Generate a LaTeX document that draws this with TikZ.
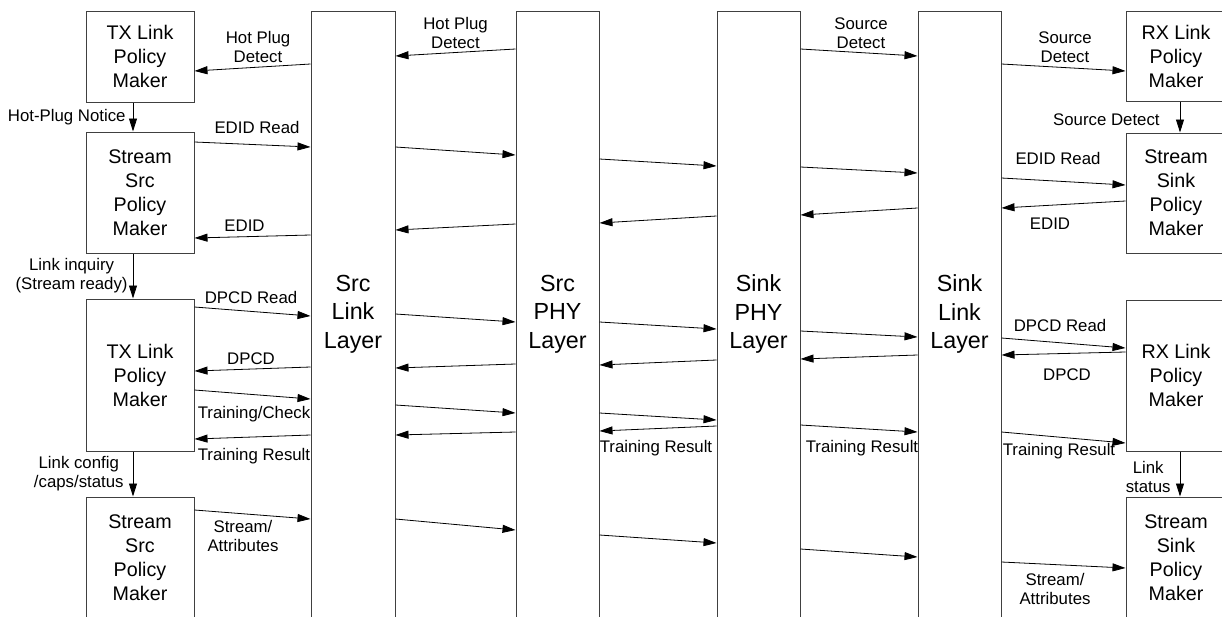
\documentclass[tikz,border=0pt]{standalone}
\usepackage{fontspec}
\setmainfont{Liberation Sans}
\usetikzlibrary{arrows.meta,positioning}

\begin{document}
\begin{tikzpicture}[
  x=1pt, y=-1pt,
  font=\fontsize{19.7}{24}\selectfont,
  policy/.style={draw=black!75, line width=1pt, align=center, minimum width=108pt, inner sep=0pt},
  rxside/.style={policy, minimum width=100pt},
  layer/.style={draw=black!75, line width=1pt, align=center, minimum width=84pt,
                minimum height=606pt, inner sep=0pt, font=\fontsize{23.3}{28.5}\selectfont},
  flow/.style={-{Triangle[length=13pt,width=8pt]}, line width=0.8pt},
  lbl/.style={font=\fontsize{16.8}{19}\selectfont, inner sep=1pt, align=center},
]
\useasboundingbox (0,0) rectangle (1222,616);

% policy makers, source side
\node[policy, minimum height=91pt]  (txpmA) at (140,56.5)  {TX Link\\Policy\\Maker};
\node[policy, minimum height=121pt] (ssrcA) at (140,192.5) {Stream\\Src\\Policy\\Maker};
\node[policy, minimum height=152pt] (txpmB) at (140,375)   {TX Link\\Policy\\Maker};
\node[policy, minimum height=121pt] (ssrcB) at (140,557.5) {Stream\\Src\\Policy\\Maker};

% layers
\node[layer] (srclink) at (353,314) {Src\\Link\\Layer};
\node[layer, minimum width=83pt] (srcphy)   at (557.5,314) {Src\\PHY\\Layer};
\node[layer, minimum width=83pt] (sinkphy)  at (758.5,314) {Sink\\PHY\\Layer};
\node[layer, minimum width=83pt] (sinklink) at (959.5,314) {Sink\\Link\\Layer};

% policy makers, sink side
\node[rxside, minimum height=90pt]  (rxpmA)  at (1176,56)    {RX Link\\Policy\\Maker};
\node[rxside, minimum height=120pt] (ssinkA) at (1176,193)   {Stream\\Sink\\Policy\\Maker};
\node[rxside, minimum height=151pt] (rxpmB)  at (1176,375.5) {RX Link\\Policy\\Maker};
\node[rxside, minimum height=121pt] (ssinkB) at (1176,557.5) {Stream\\Sink\\Policy\\Maker};

% source policy makers <-> Src Link Layer
\draw[flow] (srclink.west |- 0,64) -- node[lbl, above=3.5pt, xshift=5.5pt] {Hot Plug\\Detect} (txpmA.east |- 0,71);
\draw[flow] (ssrcA.east |- 0,142) -- node[lbl, above=9.5pt, xshift=4.5pt] {EDID Read} (srclink.west |- 0,147);
\draw[flow] (srclink.west |- 0,235) -- node[lbl, above=3.5pt, xshift=-8pt] {EDID} (ssrcA.east |- 0,238);
\draw[flow] (txpmB.east |- 0,307) -- node[lbl, above=6.5pt, xshift=-1.5pt] {DPCD Read} (srclink.west |- 0,316);
\draw[flow] (srclink.west |- 0,367) -- node[lbl, above=3pt, xshift=-1.5pt] {DPCD} (txpmB.east |- 0,371);
\draw[flow] (txpmB.east |- 0,390) -- node[lbl, below=10.5pt, xshift=1.5pt] {Training/Check} (srclink.west |- 0,399);
\draw[flow] (srclink.west |- 0,435) -- node[lbl, below=10pt, xshift=1.5pt] {Training Result} (txpmB.east |- 0,439);
\draw[flow] (ssrcB.east |- 0,510) -- node[lbl, below=4.5pt, xshift=-9.5pt] {Stream/\\Attributes} (srclink.west |- 0,519);

% Src Link Layer <-> Src PHY Layer
\draw[flow] (srcphy.west |- 0,49) -- node[lbl, above=2.5pt] {Hot Plug\\Detect} (srclink.east |- 0,56);
\draw[flow] (srclink.east |- 0,147) -- (srcphy.west |- 0,155);
\draw[flow] (srcphy.west |- 0,224) -- (srclink.east |- 0,230);
\draw[flow] (srclink.east |- 0,314) -- (srcphy.west |- 0,322);
\draw[flow] (srcphy.west |- 0,364) -- (srclink.east |- 0,368);
\draw[flow] (srclink.east |- 0,405) -- (srcphy.west |- 0,413);
\draw[flow] (srcphy.west |- 0,432) -- (srclink.east |- 0,435);
\draw[flow] (srclink.east |- 0,519) -- (srcphy.west |- 0,530);

% Src PHY Layer <-> Sink PHY Layer
\draw[flow] (srcphy.east |- 0,159) -- (sinkphy.west |- 0,166);
\draw[flow] (sinkphy.west |- 0,216) -- (srcphy.east |- 0,223);
\draw[flow] (srcphy.east |- 0,322) -- (sinkphy.west |- 0,329);
\draw[flow] (sinkphy.west |- 0,360) -- (srcphy.east |- 0,365);
\draw[flow] (srcphy.east |- 0,413) -- (sinkphy.west |- 0,420);
\draw[flow] (sinkphy.west |- 0,426) -- node[lbl, below=10.5pt, xshift=-2pt] {Training Result} (srcphy.east |- 0,431);
\draw[flow] (srcphy.east |- 0,535) -- (sinkphy.west |- 0,543);

% Sink PHY Layer <-> Sink Link Layer
\draw[flow] (sinkphy.east |- 0,49) -- node[lbl, above=2.5pt, xshift=2pt] {Source\\Detect} (sinklink.west |- 0,56);
\draw[flow] (sinkphy.east |- 0,167) -- (sinklink.west |- 0,173);
\draw[flow] (sinklink.west |- 0,208) -- (sinkphy.east |- 0,215);
\draw[flow] (sinkphy.east |- 0,331) -- (sinklink.west |- 0,337);
\draw[flow] (sinklink.west |- 0,355) -- (sinkphy.east |- 0,359);
\draw[flow] (sinkphy.east |- 0,425) -- node[lbl, below=10.5pt, xshift=3pt] {Training Result} (sinklink.west |- 0,432);
\draw[flow] (sinkphy.east |- 0,549) -- (sinklink.west |- 0,557);

% Sink Link Layer <-> sink policy makers
\draw[flow] (sinklink.east |- 0,64) -- node[lbl, above=3.5pt, xshift=1.5pt] {Source\\Detect} (rxpmA.west |- 0,71);
\draw[flow] (sinklink.east |- 0,178) -- node[lbl, above=15.5pt, xshift=-5.5pt] {EDID Read} (ssinkA.west |- 0,185);
\draw[flow] (ssinkA.west |- 0,201) -- node[lbl, below=12.5pt, xshift=-13.5pt] {EDID} (sinklink.east |- 0,208);
\draw[flow] (sinklink.east |- 0,338) -- node[lbl, above=10pt, xshift=-3.5pt] {DPCD Read} (rxpmB.west |- 0,348);
\draw[flow] (rxpmB.west |- 0,352) -- node[lbl, below=13.5pt, xshift=3.5pt] {DPCD} (sinklink.east |- 0,355);
\draw[flow] (sinklink.east |- 0,432) -- node[lbl, below=4.5pt, xshift=-4.5pt] {Training Result} (rxpmB.west |- 0,443);
\draw[flow] (sinklink.east |- 0,562) -- node[lbl, below=7pt, xshift=-8.5pt] {Stream/\\Attributes} (ssinkB.west |- 0,568);

% notices down the policy makers
\draw[flow] ([xshift=-7pt]txpmA.south) -- node[lbl, left=6pt] {Hot-Plug Notice} ([xshift=-7pt]ssrcA.north);
\draw[flow] ([xshift=-7pt]ssrcA.south) -- node[lbl, left=4pt] {Link inquiry\\(Stream ready)} ([xshift=-7pt]txpmB.north);
\draw[flow] ([xshift=-7pt]txpmB.south) -- node[lbl, left=8pt] {Link config\\/caps/status} ([xshift=-7pt]ssrcB.north);
\draw[flow] ([xshift=4pt]rxpmA.south) -- node[lbl, left=19pt, yshift=-3pt] {Source Detect} ([xshift=4pt]ssinkA.north);
\draw[flow] ([xshift=4pt]rxpmB.south) -- node[lbl, left=8pt, yshift=-3pt] {Link\\status} ([xshift=4pt]ssinkB.north);

\end{tikzpicture}
\end{document}
